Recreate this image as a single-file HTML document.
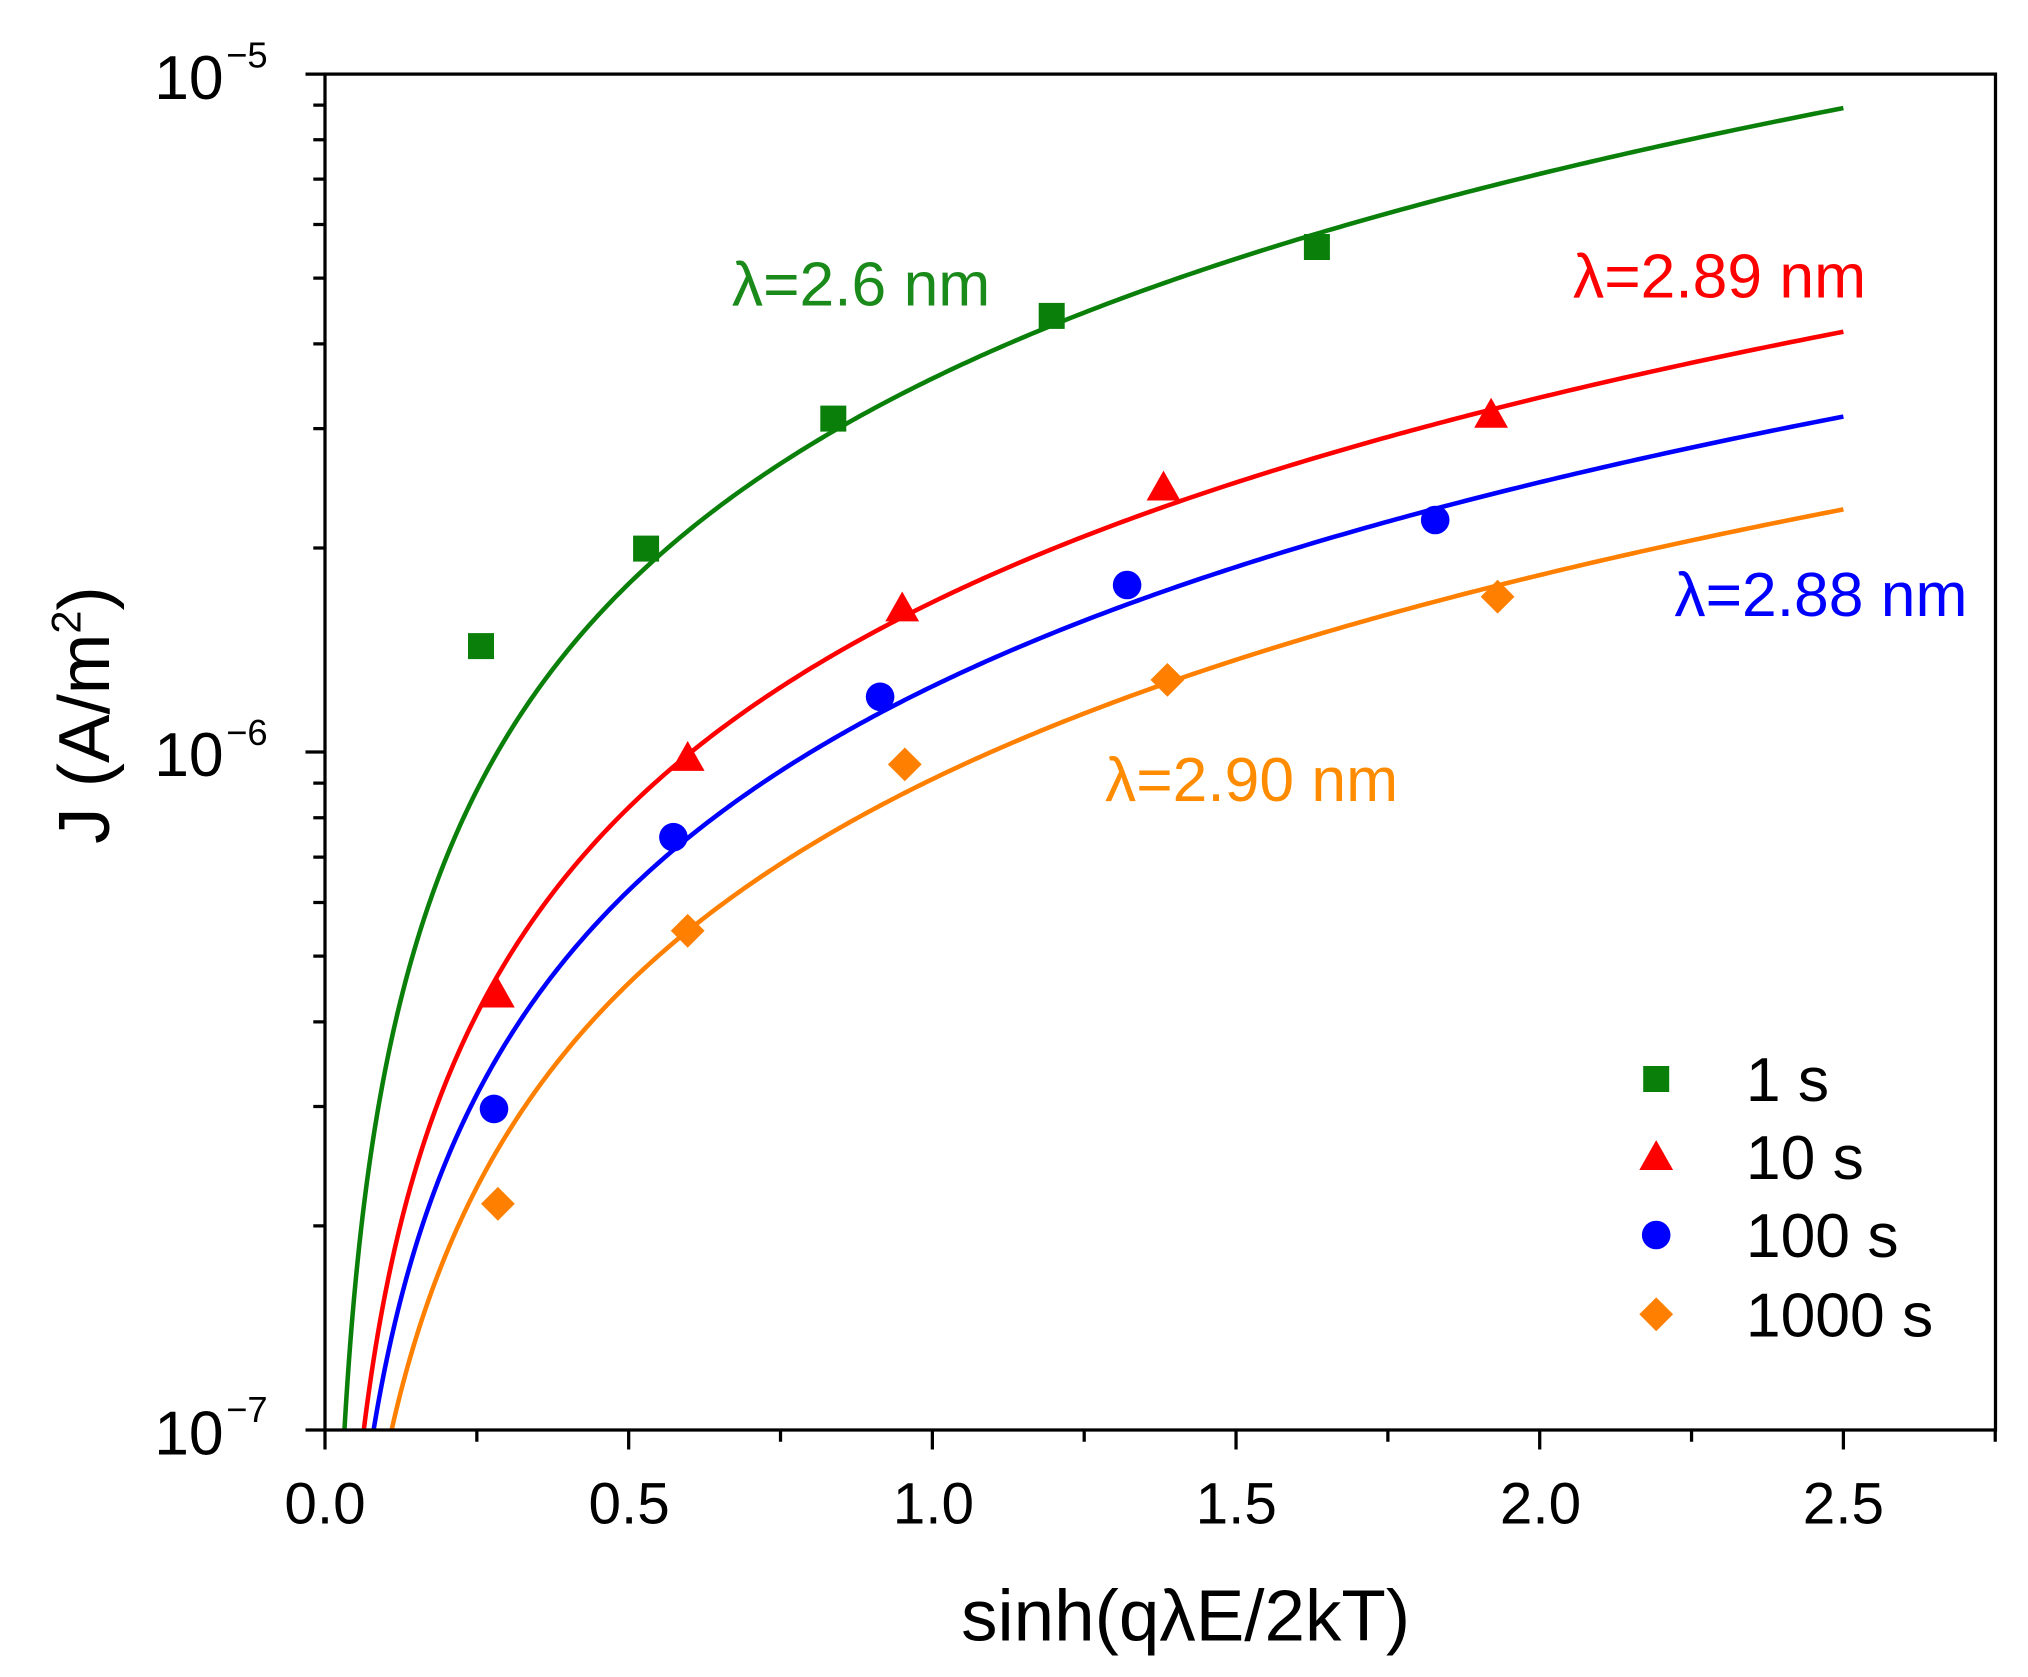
<!DOCTYPE html>
<html><head><meta charset="utf-8"><style>
html,body{margin:0;padding:0;background:#fff;}
svg{display:block;}
text{font-family:"Liberation Sans",sans-serif;}
</style></head><body>
<svg id="s" width="2028" height="1677" viewBox="0 0 1560 1290" xmlns="http://www.w3.org/2000/svg">
<rect width="1560" height="1290" fill="#fff"/>
<defs><clipPath id="c"><rect x="250" y="57" width="1285" height="1043"/></clipPath></defs>
<g id="curves" clip-path="url(#c)" fill="none" stroke-width="3.5"></g>
<rect x="250" y="57" width="1285" height="1043" fill="none" stroke="#000" stroke-width="2.5"/>
<g id="ticks" stroke="#000" stroke-width="2.5"></g>
<g font-size="45" fill="#000" text-anchor="middle">
<text x="250" y="1172">0.0</text><text x="484" y="1172">0.5</text><text x="718" y="1172">1.0</text>
<text x="951" y="1172">1.5</text><text x="1185" y="1172">2.0</text><text x="1418" y="1172">2.5</text>
</g>
<g font-size="48" fill="#000" text-anchor="end">
<text x="172" y="76">10</text><text x="172" y="597">10</text><text x="172" y="1119">10</text>
</g>
<g font-size="28" fill="#000">
<text x="174" y="52">−5</text><text x="174" y="573">−6</text><text x="174" y="1094">−7</text>
</g>
<text x="912" y="1262" font-size="56" text-anchor="middle">sinh(qλE/2kT)</text>
<text transform="translate(84,550) rotate(-90)" font-size="56" text-anchor="middle">J (A/m<tspan font-size="32" dy="-22">2</tspan><tspan dy="22">)</tspan></text>
<g font-size="48">
<text x="563" y="235" fill="#1a8a1a">λ=2.6 nm</text>
<text x="1210" y="229" fill="#ff0000">λ=2.89 nm</text>
<text x="1288" y="474" fill="#0000ff">λ=2.88 nm</text>
<text x="850" y="616" fill="#ff8c00">λ=2.90 nm</text>
</g>
<g id="markers"></g>
<g font-size="48" fill="#000">
<text x="1343" y="847">1 s</text><text x="1343" y="907">10 s</text>
<text x="1343" y="967">100 s</text><text x="1343" y="1028">1000 s</text>
</g>
</svg>
<script>
var NS="http://www.w3.org/2000/svg";
function X(x){return 250+x*467.2;}
function Y(j){return 1100-(Math.log10(j)+7)*521.5;}
var cv=document.getElementById("curves");
[["#0a800a",3.57e-6,0.004],["#ff0000",1.67e-6,0.004],["#0000ff",1.25e-6,0.0],["#ff8000",0.912e-6,0.0]].forEach(function(c){
 var d="",x0=c[2]+1e-7/c[1]*0.9;
 for(var i=0;i<=400;i++){var x=x0+(2.5-x0)*Math.pow(i/400,2);var j=c[1]*(x-c[2]);if(j<=0)continue;d+=(d?"L":"M")+X(x).toFixed(2)+","+Y(j).toFixed(2);}
 var p=document.createElementNS(NS,"path");p.setAttribute("d",d);p.setAttribute("stroke",c[0]);cv.appendChild(p);
});
var tk=document.getElementById("ticks"),t="";
for(var i=0;i<=11;i++){var x=250+i*0.25*467.2;if(x>1536)break;t+="M"+x+",1100v"+(i%2?9:15);}
for(var d=-7;d<-5;d++)for(var k=1;k<10;k++){var y=Y(k*Math.pow(10,d));t+="M250,"+y+"h"+(k==1?-15:-9);}
t+="M250,"+Y(1e-5)+"h-15";
var tp=document.createElementNS(NS,"path");tp.setAttribute("d",t);tk.appendChild(tp);
var mk=document.getElementById("markers"),h="";
function sq(x,y,c){return '<rect x="'+(x-10)+'" y="'+(y-10)+'" width="20" height="20" fill="'+c+'"/>';}
function tr(x,y,c){return '<polygon points="'+x+','+(y-13)+' '+(x-13)+','+(y+10)+' '+(x+13)+','+(y+10)+'" fill="'+c+'"/>';}
function ci(x,y,c){return '<circle cx="'+x+'" cy="'+y+'" r="11" fill="'+c+'"/>';}
function di(x,y,c){return '<polygon points="'+x+','+(y-13)+' '+(x+13)+','+y+' '+x+','+(y+13)+' '+(x-13)+','+y+'" fill="'+c+'"/>';}
var g="#0a800a",r="#ff0000",b="#0000ff",o="#ff8000";
[[370,497],[497,422],[641,322],[809,243],[1013,190]].forEach(function(p){h+=sq(p[0],p[1],g);});
[[383,765],[529,583],[694,468],[895,375],[1147,319]].forEach(function(p){h+=tr(p[0],p[1],r);});
[[380,853],[518,644],[677,536],[867,450],[1104,400]].forEach(function(p){h+=ci(p[0],p[1],b);});
[[383,926],[529,716],[696,588],[898,523],[1152,459]].forEach(function(p){h+=di(p[0],p[1],o);});
h+=sq(1274,830,g)+tr(1274,890,r)+ci(1274,950,b)+di(1274,1011,o);
mk.innerHTML=h;
</script>
</body></html>
